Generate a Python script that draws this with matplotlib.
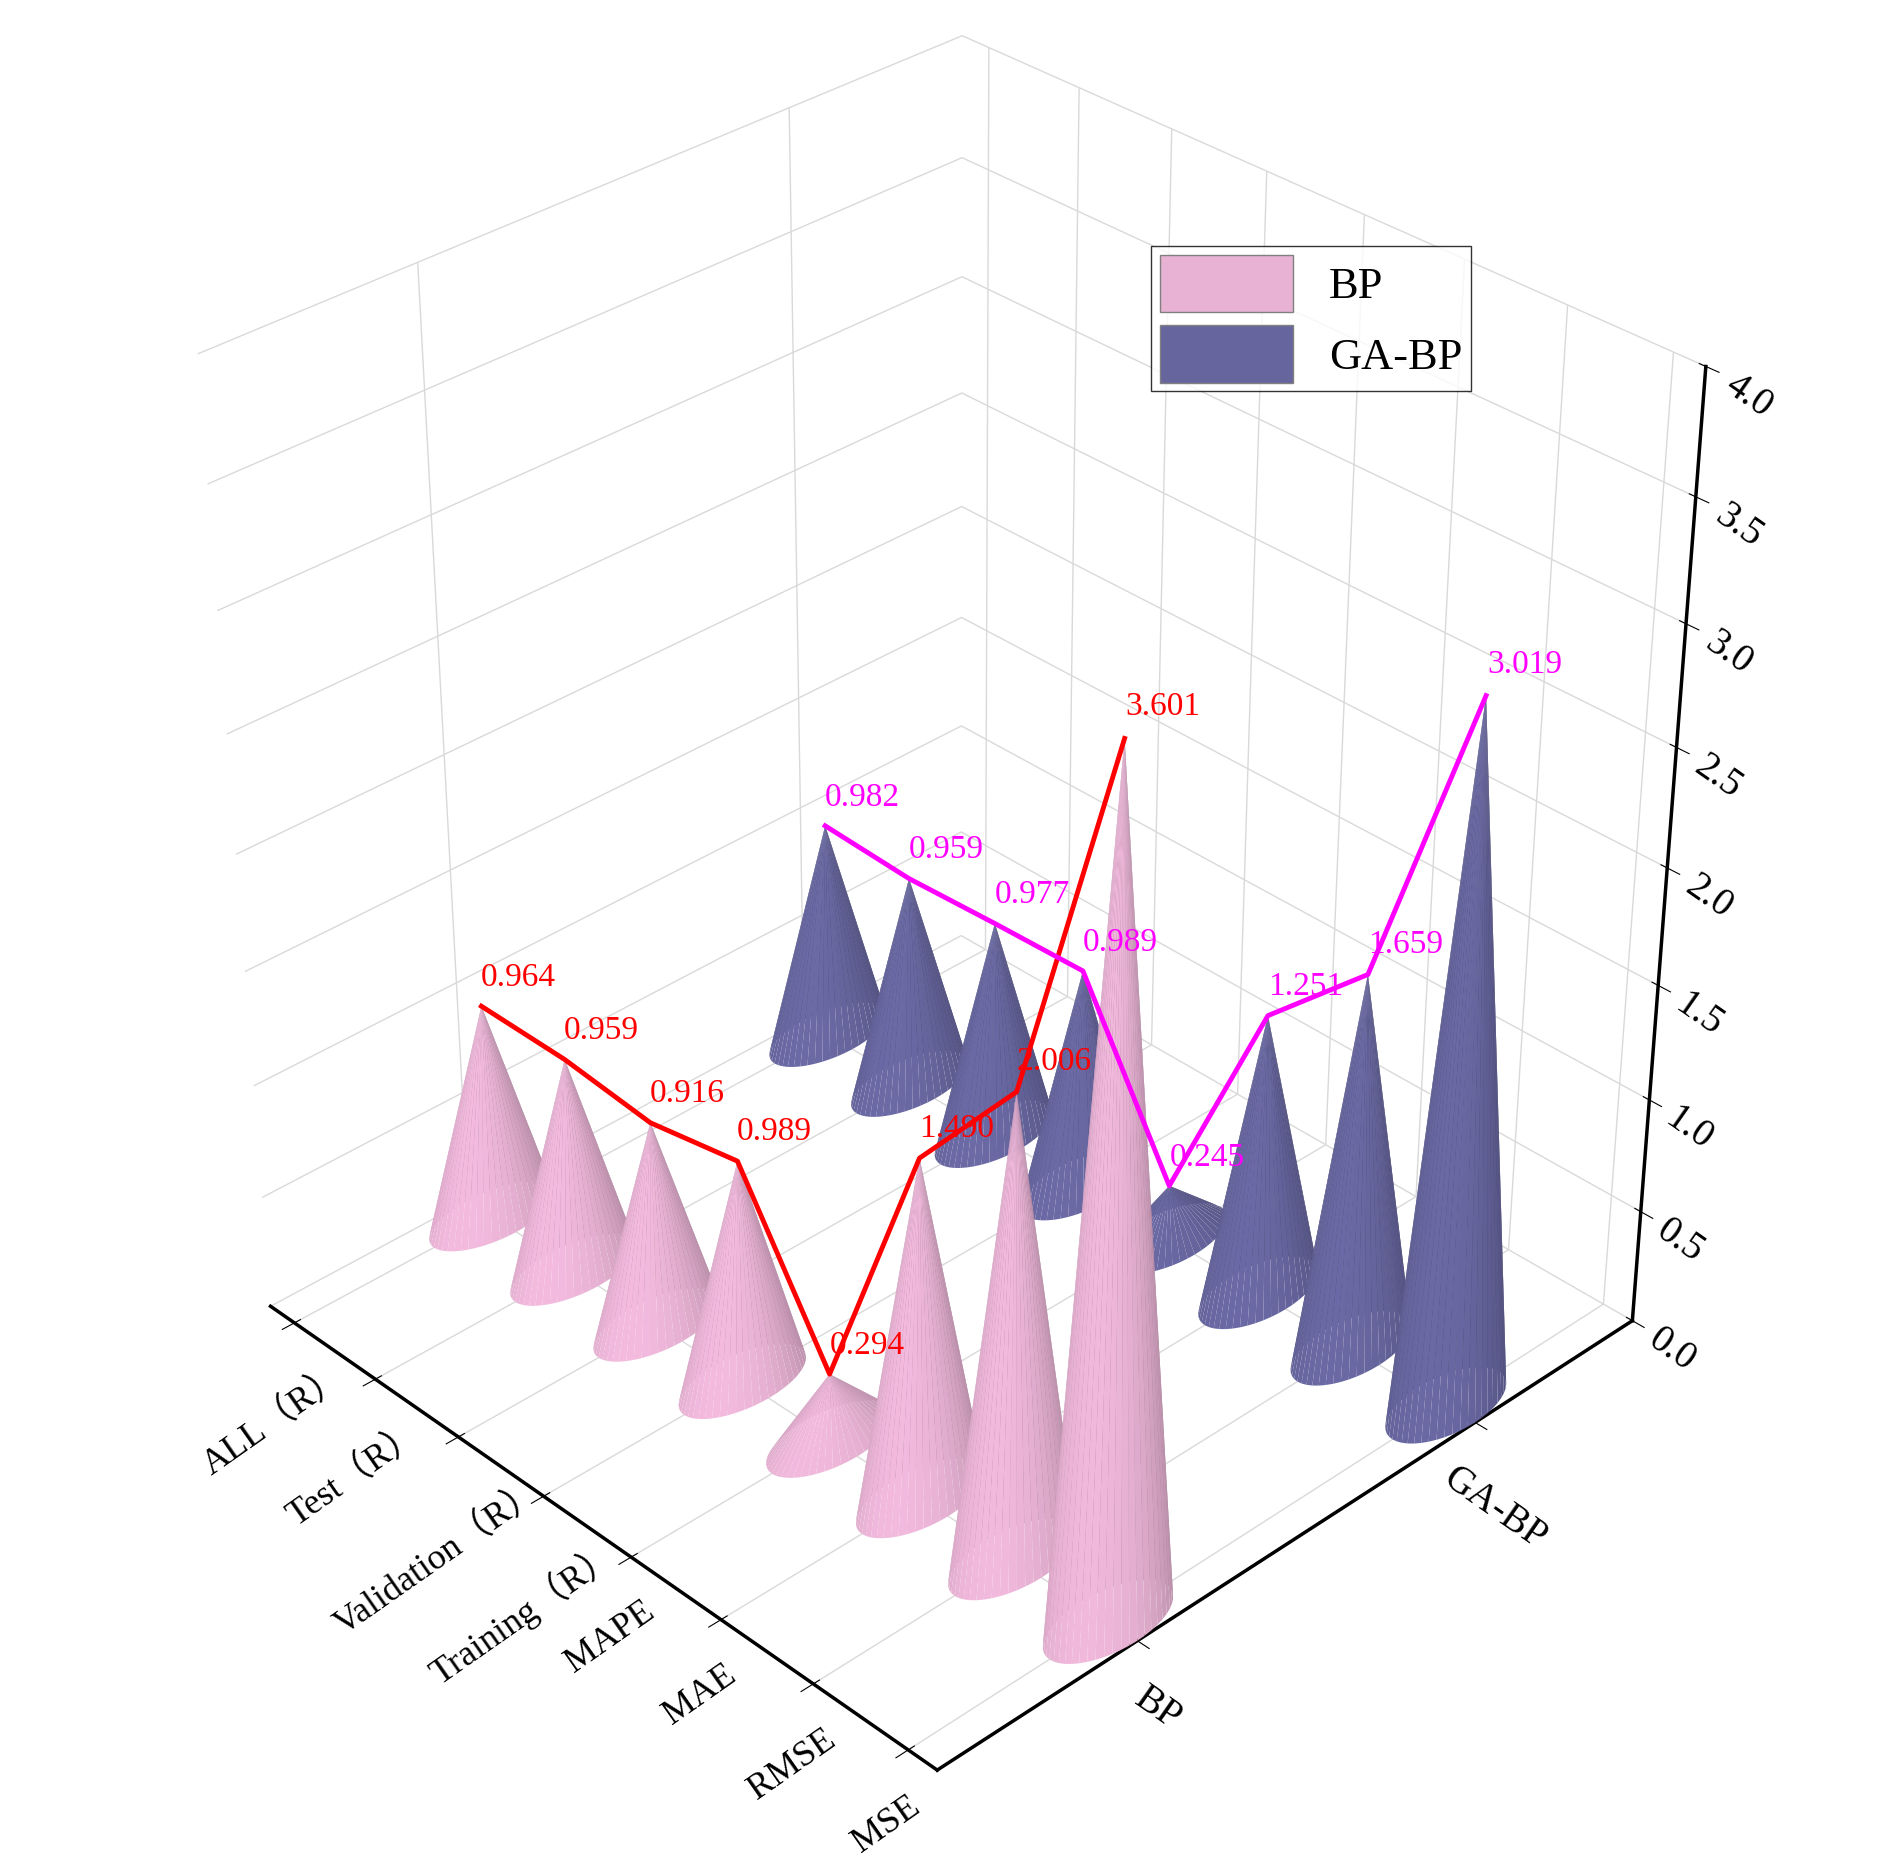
import numpy as np
import matplotlib
matplotlib.use("Agg")
import matplotlib.pyplot as plt
from mpl_toolkits.mplot3d.art3d import Poly3DCollection
from matplotlib.patches import Patch

plt.rcParams['font.family'] = ['Liberation Serif', 'Noto Sans CJK SC', 'DejaVu Sans']

categories = ["ALL（R）", "Test（R）", "Validation（R）", "Training（R）", "MAPE", "MAE", "RMSE", "MSE"]
series = ["BP", "GA-BP"]
bp = [0.964, 0.959, 0.916, 0.989, 0.294, 1.490, 2.006, 3.601]
gabp = [0.982, 0.959, 0.977, 0.989, 0.245, 1.251, 1.659, 3.019]
zticks = [0.0, 0.5, 1.0, 1.5, 2.0, 2.5, 3.0, 3.5, 4.0]
colors = ["#e8b2d4", "#66659e"]
linecolors = ["#ff0000", "#ff00ff"]

fig = plt.figure(figsize=(18.88, 18.66), dpi=100)
ax = fig.add_axes([-0.01, 0.025, 1.0, 1.0], projection='3d', computed_zorder=False)
ax.set_proj_type('persp', focal_length=0.6)
ax.view_init(elev=33, azim=-44)
ax.set_box_aspect((1, 1, 1.12), zoom=0.95)

light = np.array([0.5, -0.6, 0.4]); light /= np.linalg.norm(light)
polys, fcs = [], []
R = 0.3
nseg = 48
th = np.linspace(0, 2*np.pi, nseg+1)
for j, vals in enumerate([bp, gabp]):
    base = np.array(matplotlib.colors.to_rgb(colors[j]))
    for i, v in enumerate(vals):
        for k in range(nseg):
            p1 = (i + R*np.cos(th[k]), j + R*np.sin(th[k])*0.55, 0)
            p2 = (i + R*np.cos(th[k+1]), j + R*np.sin(th[k+1])*0.55, 0)
            tip = (i, j, v)
            tm = 0.5*(th[k]+th[k+1])
            n = np.array([np.cos(tm)*v, np.sin(tm)*v, R]); n /= np.linalg.norm(n)
            s = 0.85 + 0.2*np.dot(n, light)
            polys.append([p1, p2, tip])
            fcs.append(np.clip(base*s, 0, 1))
coll = Poly3DCollection(polys, facecolors=fcs, edgecolors='none', zorder=2)
ax.add_collection3d(coll)

xs = np.arange(len(categories))
for j, vals in enumerate([bp, gabp]):
    ax.plot(xs, [j]*len(xs), vals, color=linecolors[j], lw=3.5, zorder=5)
    for i, v in enumerate(vals):
        ax.text(i, j, v + 0.06, f"{v:.3f}", color=linecolors[j], fontsize=24,
                zorder=6, ha='left', va='bottom')

ax.set_xlim(-0.3, 7.3)
ax.set_ylim(-0.55, 1.5)
ax.set_zlim(0, 4)
ax.set_xticks(xs)
ax.set_xticklabels(categories, fontsize=26)
ax.set_yticks([0, 1])
ax.set_yticklabels(series, fontsize=28)
ax.set_zticks(zticks)
ax.set_zticklabels([f"{z:.1f}" for z in zticks], fontsize=28)
for t in ax.get_xticklabels():
    t.set_rotation(35)
for t in ax.get_yticklabels():
    t.set_rotation(-35)
for t in ax.get_zticklabels():
    t.set_rotation(-35)
ax.zaxis.set_ticks_position('upper')
ax.zaxis.set_label_position('upper')
for a in (ax.xaxis, ax.yaxis, ax.zaxis):
    a.set_pane_color((1, 1, 1, 0))
    a._axinfo['grid']['color'] = (0.85, 0.85, 0.85, 1)
    a._axinfo['grid']['linewidth'] = 1.0
    a.line.set_linewidth(2.5)
    a.line.set_color('black')
ax.tick_params(axis='both', which='major', pad=12)

handles = [Patch(facecolor=colors[0], edgecolor='gray', label=series[0]),
           Patch(facecolor=colors[1], edgecolor='gray', label=series[1])]
fig.legend(handles=handles, loc='upper left', bbox_to_anchor=(0.598, 0.88), fontsize=32,
           fancybox=False, edgecolor='black', handlelength=3, handleheight=1.6,
           borderpad=0.2, labelspacing=0.3)

fig.savefig("out.png", dpi=100)
